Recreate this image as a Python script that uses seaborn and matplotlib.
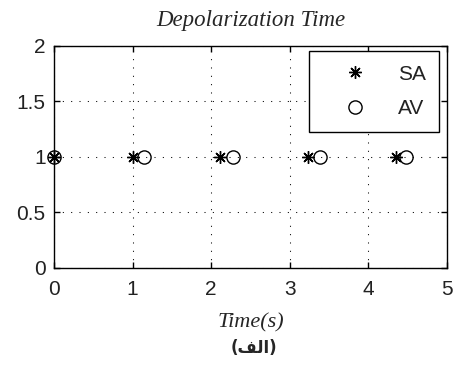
import matplotlib
matplotlib.use("Agg")
import matplotlib.pyplot as plt
import seaborn as sns
import pandas as pd

# Data
sa_time = [0.0, 1.00, 2.11, 3.23, 4.35]
sa_value = [1, 1, 1, 1, 1]
av_time = [0.0, 1.14, 2.28, 3.38, 4.48]
av_value = [1, 1, 1, 1, 1]
series_labels = ["SA", "AV"]
x_ticks = [0, 1, 2, 3, 4, 5]
y_ticks = [0, 0.5, 1, 1.5, 2]
y_tick_labels = ["0", "0.5", "1", "1.5", "2"]
title_text = "Depolarization Time"
xlabel_text = "Time(s)"
caption_text = "(الف)"
# visual-order Arabic presentation forms for caption (matplotlib has no shaping)
caption_visual = "(\ufed2\ufedf\ufe8d)"

sns.set_theme(style="white")
plt.rcParams['font.family'] = ['Liberation Sans', 'DejaVu Sans']

df_sa = pd.DataFrame({"t": sa_time, "v": sa_value})
df_av = pd.DataFrame({"t": av_time, "v": av_value})

fig = plt.figure(figsize=(4.53, 3.68), dpi=100)
ax = fig.add_axes([54/453, 1-267.7/368, 393/453, 222/368])

grid_kw = dict(color="black", linewidth=0.75, linestyle=(0, (1, 7)))
ax.grid(True, **grid_kw)
ax.set_axisbelow(True)

sns.lineplot(data=df_sa, x="t", y="v", ax=ax, estimator=None, sort=False,
             linestyle="", marker=(8, 2, 0), markersize=9, color="black",
             markeredgecolor="black", markerfacecolor="black",
             markeredgewidth=1.0, label=series_labels[0], legend=False)
sns.lineplot(data=df_av, x="t", y="v", ax=ax, estimator=None, sort=False,
             linestyle="", marker="o", markersize=9.5, color="black",
             markerfacecolor="none", markeredgecolor="black",
             markeredgewidth=1.0, label=series_labels[1], legend=False)
for ln in ax.lines:
    ln.set_clip_on(False)

ax.set_xlim(0, 5)
ax.set_ylim(0, 2)
ax.set_xticks(x_ticks)
ax.set_yticks(y_ticks)
ax.set_yticklabels(y_tick_labels)
ax.tick_params(axis="both", direction="in", length=4, width=1, color="black",
               labelsize=15, labelcolor="#222222", top=True, right=True, bottom=True, left=True)
ax.tick_params(axis="x", pad=9)
ax.tick_params(axis="y", pad=6)
for s in ax.spines.values():
    s.set_visible(True)
    s.set_color("black")
    s.set_linewidth(1.0)

ax.set_title(title_text, family="Liberation Serif", style="italic", fontsize=16.5, pad=14)
ax.set_xlabel(xlabel_text, family="Liberation Serif", style="italic", fontsize=16, labelpad=10)
ax.set_ylabel("")

leg = ax.legend(loc="upper right", bbox_to_anchor=(0.98, 0.976), fontsize=15,
                frameon=True, fancybox=False, framealpha=1, edgecolor="black",
                borderpad=0.65, handlelength=3.1, handletextpad=0.5, labelspacing=0.75,
                borderaxespad=0, markerfirst=True)
leg.get_frame().set_linewidth(1.0)
for t in leg.get_texts():
    t.set_color("#222222")

fig.text(254/453, 1-348/368, caption_visual, ha="center", va="center",
         fontsize=12, fontweight="bold", family=["DejaVu Sans"])

fig.savefig("out.png", dpi=100, facecolor="white")
